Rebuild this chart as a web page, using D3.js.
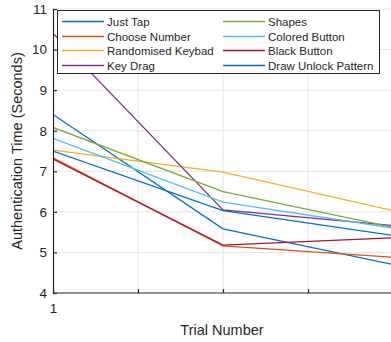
<!DOCTYPE html>
<html>
<head>
<meta charset="utf-8">
<script src="https://cdn.jsdelivr.net/npm/d3@7"></script>
<style>
  body { margin: 0; background: #fff; }
  text { font-family: "Liberation Sans", Arial, sans-serif; fill: #262626; }
</style>
</head>
<body>
<div id="chart"></div>
<script>
// trial numbers and per-method mean times
const trials = [1, 2, 3];
const seriesNames = ["Just Tap", "Choose Number", "Randomised Keybad", "Key Drag",
                     "Shapes", "Colored Button", "Black Button", "Draw Unlock Pattern"];
const seriesColors = ["#0072BD", "#D95319", "#EDB120", "#7E2F8E",
                      "#77AC30", "#4DBEEE", "#A2142F", "#0072BD"];
const justTap = [8.4, 5.58, 4.7];
const chooseNumber = [7.33, 5.16, 4.88];
const randomKeypad = [7.52, 6.98, 6.03];
const keyDrag = [10.4, 6.05, 5.66];
const shapes = [8.08, 6.5, 5.62];
const coloredButton = [7.81, 6.24, 5.6];
const blackButton = [7.3, 5.18, 5.36];
const drawPattern = [7.5, 6.03, 5.42];
const yTicks = [4, 5, 6, 7, 8, 9, 10, 11];
const xTicks = [1, 1.5, 2, 2.5];

const seriesValues = [justTap, chooseNumber, randomKeypad, keyDrag,
                      shapes, coloredButton, blackButton, drawPattern];

const width = 391, height = 342;
const margin = {left: 53, top: 9, bottom: 49};

const svg = d3.select("#chart").append("svg")
    .attr("width", width)
    .attr("height", height);

const x = d3.scaleLinear().domain([1, 2]).range([margin.left, 223]);
const y = d3.scaleLinear().domain([4, 11]).range([height - margin.bottom, margin.top]);

// grid
svg.append("g").selectAll("line").data(xTicks.slice(1)).join("line")
    .attr("x1", d => x(d)).attr("x2", d => x(d))
    .attr("y1", y(4)).attr("y2", y(11))
    .attr("stroke", "#e3e3e3").attr("stroke-width", 1);
svg.append("g").selectAll("line").data(yTicks.slice(1)).join("line")
    .attr("x1", x(1)).attr("x2", width)
    .attr("y1", d => y(d)).attr("y2", d => y(d))
    .attr("stroke", "#e3e3e3").attr("stroke-width", 1);

// lines
const line = d3.line().x((d, i) => x(trials[i])).y(d => y(d));
svg.append("clipPath").attr("id", "clip").append("rect")
    .attr("x", x(1)).attr("y", y(11)).attr("width", width - x(1)).attr("height", y(4) - y(11));
svg.append("g").attr("clip-path", "url(#clip)")
  .selectAll("path").data(seriesValues).join("path")
    .attr("d", line)
    .attr("fill", "none")
    .attr("stroke", (d, i) => seriesColors[i])
    .attr("stroke-width", 1.3);

// axes
const xAxis = svg.append("g")
    .attr("transform", `translate(0,${y(4)})`)
    .call(d3.axisBottom(x).tickValues(xTicks).tickSizeInner(-4).tickSizeOuter(0)
        .tickFormat(d => d === 1 ? "1" : ""));
xAxis.select(".domain").attr("d", `M${x(1)},0H${width}`);
const yAxis = svg.append("g")
    .attr("transform", `translate(${x(1)},0)`)
    .call(d3.axisLeft(y).tickValues(yTicks).tickSizeInner(-4).tickSizeOuter(0)
        .tickFormat(d3.format("d")));
[xAxis, yAxis].forEach(a => {
  a.selectAll(".domain, line").attr("stroke", "#262626").attr("stroke-width", 1.2);
  a.selectAll("text").attr("font-size", 13.5).attr("fill", "#262626")
      .attr("font-family", "Liberation Sans, Arial, sans-serif");
});
xAxis.selectAll("text").attr("dy", "1.25em");
yAxis.selectAll("text").attr("x", -6);

svg.append("text")
    .attr("x", 222).attr("y", 335)
    .attr("text-anchor", "middle").attr("font-size", 14.5)
    .text("Trial Number");
svg.append("text")
    .attr("transform", `translate(22,${(y(4) + y(11)) / 2}) rotate(-90)`)
    .attr("text-anchor", "middle").attr("font-size", 14.5)
    .text("Authentication Time (Seconds)");

// legend
const legend = svg.append("g");
legend.append("rect")
    .attr("x", 57.5).attr("y", 10.5).attr("width", 322).attr("height", 63)
    .attr("fill", "#fff").attr("stroke", "#262626").attr("stroke-width", 1);
const item = legend.selectAll("g.item").data(seriesNames).join("g")
    .attr("class", "item")
    .attr("transform", (d, i) => `translate(${i < 4 ? 62 : 223},${Math.round(21 + (i % 4) * 14.7) + 0.5})`);
item.append("line")
    .attr("x1", 0).attr("x2", 42)
    .attr("stroke", (d, i) => seriesColors[i]).attr("stroke-width", 1.3);
item.append("text")
    .attr("x", 45).attr("dy", "0.35em").attr("font-size", 11.5)
    .text(d => d);
</script>
</body>
</html>
